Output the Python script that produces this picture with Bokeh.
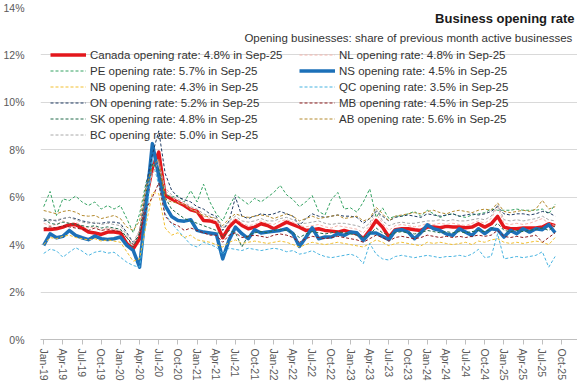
from bokeh.plotting import figure
from bokeh.models import Range1d, FixedTicker, Legend, LegendItem, Label
from bokeh.embed import file_html
from bokeh.resources import INLINE

FONT = "Liberation Sans"

# month index 0 = Jan-19 ... 80 = Sep-25
MONTHS = list(range(81))
TICK_MONTHS = ["Jan", "Apr", "Jul", "Oct"]
TICK_YEARS = ["19", "20", "21", "22", "23", "24", "25"]
TICK_LABELS = [f"{m}-{y}" for y in TICK_YEARS for m in TICK_MONTHS]
TICK_POS = list(range(0, 84, 3))
Y_TICKS = [0, 2, 4, 6, 8, 10, 12, 14]

canada = [4.64, 4.64, 4.67, 4.74, 4.84, 4.84, 4.70, 4.53, 4.49, 4.43,
          4.53, 4.53, 4.49, 4.04, 3.82, 4.25, 5.90, 7.25, 7.90, 6.07,
          5.93, 5.79, 5.65, 5.47, 5.40, 5.02, 5.00, 4.92, 4.29, 4.74,
          5.02, 4.81, 4.67, 4.74, 4.88, 4.81, 4.67, 4.81, 4.95, 4.84,
          4.74, 4.60, 4.63, 4.67, 4.60, 4.57, 4.53, 4.60, 4.53, 4.46,
          4.25, 4.60, 5.02, 4.74, 4.32, 4.63, 4.67, 4.67, 4.63, 4.60,
          4.74, 4.74, 4.71, 4.77, 4.74, 4.74, 4.71, 4.74, 4.88, 4.74,
          4.88, 5.19, 4.74, 4.67, 4.67, 4.70, 4.70, 4.70, 4.74, 4.88,
          4.80]
nl = [4.90, 4.80, 4.85, 5.00, 4.90, 4.95, 4.80, 4.70, 4.75, 4.60,
      4.70, 4.65, 4.60, 4.30, 4.00, 4.60, 6.00, 7.00, 7.30, 6.30,
      6.00, 5.80, 5.70, 5.50, 5.40, 5.20, 5.10, 5.00, 4.60, 4.90,
      5.10, 4.90, 4.80, 4.85, 5.00, 4.90, 4.85, 5.00, 5.05, 4.95,
      4.80, 4.75, 4.80, 4.85, 4.75, 4.70, 4.80, 4.75, 4.70, 4.65,
      4.50, 4.80, 5.30, 4.90, 4.60, 4.80, 4.85, 4.80, 4.75, 4.80,
      4.90, 4.85, 4.90, 4.85, 4.90, 4.85, 4.80, 4.90, 5.00, 4.90,
      5.10, 5.60, 4.90, 4.85, 4.90, 4.85, 4.90, 5.00, 5.10, 4.90,
      4.80]
pe = [5.60, 6.24, 5.23, 5.93, 5.86, 6.05, 5.80, 5.65, 5.80, 5.50,
      5.65, 5.50, 5.65, 5.10, 4.50, 5.30, 6.60, 7.40, 7.10, 6.14,
      6.00, 6.07, 5.80, 6.28, 5.80, 6.55, 5.80, 5.30, 5.00, 5.60,
      6.10, 5.90, 5.70, 5.95, 5.80, 6.00, 6.20, 6.50, 6.10, 5.90,
      5.60, 5.80, 6.07, 5.40, 5.25, 5.90, 6.20, 5.50, 5.55, 5.37,
      5.80, 6.35, 5.15, 5.55, 5.10, 5.20, 5.20, 5.30, 5.40, 5.20,
      5.45, 5.30, 5.15, 5.25, 5.30, 5.20, 5.15, 5.25, 5.30, 5.35,
      5.50, 5.45, 5.45, 5.45, 5.50, 5.45, 5.45, 5.45, 5.50, 5.30,
      5.70]
ns = [3.97, 4.46, 4.29, 4.35, 4.60, 4.39, 4.29, 4.21, 4.36, 4.25,
      4.22, 4.25, 4.32, 3.97, 3.76, 3.05, 5.60, 8.26, 6.90, 5.65,
      5.19, 5.02, 4.99, 5.05, 4.60, 4.53, 4.49, 4.45, 3.40, 4.20,
      4.74, 4.46, 4.25, 4.63, 4.49, 4.53, 4.56, 4.60, 4.67, 4.46,
      3.92, 4.30, 4.71, 4.25, 4.32, 4.32, 4.46, 4.39, 4.53, 4.50,
      4.18, 4.49, 4.49, 4.35, 4.21, 4.60, 4.63, 4.53, 4.25, 4.50,
      4.84, 4.67, 4.60, 4.45, 4.39, 4.67, 4.53, 4.39, 4.67, 4.46,
      4.67, 4.63, 4.32, 4.60, 4.46, 4.67, 4.53, 4.67, 4.63, 4.84,
      4.50]
nb = [4.00, 4.30, 4.25, 4.35, 4.40, 4.30, 4.25, 4.20, 4.25, 4.15,
      4.20, 4.15, 4.10, 3.70, 3.30, 3.40, 4.80, 6.20, 6.15, 4.70,
      4.40, 4.50, 4.30, 4.40, 4.20, 4.15, 4.10, 4.00, 3.90, 4.10,
      4.20, 4.05, 4.10, 4.15, 4.10, 4.05, 4.10, 4.15, 4.10, 4.00,
      3.90, 4.00, 4.10, 4.05, 4.00, 4.05, 4.10, 4.05, 4.00, 3.95,
      3.90, 4.05, 4.20, 4.10, 3.95, 4.05, 4.10, 4.05, 4.00, 3.95,
      4.10, 4.05, 4.10, 4.05, 4.00, 4.05, 4.10, 4.00, 4.15, 4.10,
      4.20, 4.25, 4.10, 4.05, 4.10, 4.05, 4.10, 4.15, 4.10, 4.00,
      4.30]
qc = [3.63, 3.81, 3.74, 3.47, 3.68, 3.87, 3.73, 3.54, 3.68, 3.73,
      3.64, 3.68, 3.47, 3.26, 3.12, 3.05, 5.00, 7.60, 6.50, 5.30,
      4.90, 4.60, 4.30, 4.00, 3.90, 4.10, 4.00, 3.90, 3.60, 3.85,
      3.80, 3.75, 3.85, 3.80, 3.75, 3.80, 3.85, 3.80, 3.70, 3.75,
      3.60, 3.65, 3.75, 3.60, 3.50, 3.45, 3.50, 3.55, 3.60, 3.50,
      3.20, 4.05, 3.60, 3.40, 3.35, 3.50, 3.55, 3.50, 3.45, 3.50,
      3.55, 3.50, 3.45, 3.50, 3.50, 3.55, 3.50, 3.60, 3.80, 3.45,
      3.50, 4.46, 3.40, 3.45, 3.50, 3.45, 3.50, 3.55, 3.70, 3.05,
      3.50]
on = [5.00, 5.05, 5.00, 5.10, 5.15, 5.10, 5.00, 4.95, 4.90, 4.90,
      4.95, 4.95, 4.90, 4.50, 4.10, 4.40, 6.50, 7.80, 8.80, 7.00,
      6.30, 6.00, 5.90, 5.80, 5.60, 5.50, 5.30, 5.20, 4.60, 5.00,
      6.00, 5.20, 5.10, 5.20, 5.30, 5.25, 5.30, 5.40, 5.30, 5.20,
      4.80, 5.10, 5.30, 5.20, 5.15, 5.20, 5.25, 5.20, 5.20, 5.15,
      4.90, 5.10, 5.40, 5.20, 5.00, 5.15, 5.20, 5.25, 5.20, 5.15,
      5.30, 5.25, 5.20, 5.25, 5.30, 5.20, 5.25, 5.30, 5.25, 5.30,
      5.40, 5.60, 5.30, 5.25, 5.30, 5.30, 5.25, 5.30, 5.40, 5.35,
      5.20]
mb = [4.70, 4.75, 4.70, 4.80, 4.75, 4.70, 4.65, 4.60, 4.70, 4.60,
      4.65, 4.60, 4.55, 4.30, 4.00, 4.30, 5.50, 6.00, 6.60, 5.20,
      4.90, 4.80, 4.60, 4.70, 4.60, 4.50, 4.40, 4.40, 4.10, 4.40,
      4.50, 4.30, 4.35, 4.40, 4.35, 4.30, 4.40, 4.45, 4.40, 4.30,
      4.10, 4.25, 4.35, 4.30, 4.25, 4.30, 4.35, 4.30, 4.25, 4.20,
      4.10, 4.25, 4.40, 4.30, 4.15, 4.30, 4.35, 4.30, 4.25, 4.30,
      4.40, 4.35, 4.30, 4.35, 4.30, 4.35, 4.30, 4.35, 4.40, 4.35,
      4.40, 4.60, 4.35, 4.30, 4.35, 4.30, 4.35, 4.40, 4.10, 4.30,
      4.50]
sk = [5.10, 4.90, 4.85, 4.95, 4.90, 4.85, 4.80, 4.75, 4.80, 4.70,
      4.75, 4.70, 4.65, 4.30, 3.90, 4.50, 6.20, 7.40, 7.20, 6.00,
      5.50, 5.30, 5.10, 5.00, 4.90, 4.80, 4.70, 4.60, 4.30, 4.60,
      4.50, 3.90, 4.40, 4.50, 4.55, 4.50, 4.60, 4.65, 4.60, 4.50,
      4.30, 4.45, 4.55, 4.50, 4.45, 4.50, 4.55, 4.50, 4.45, 4.40,
      4.30, 4.45, 4.70, 4.50, 4.40, 4.50, 4.55, 4.50, 4.45, 4.50,
      4.60, 4.55, 4.50, 4.55, 4.50, 4.55, 4.50, 4.55, 4.60, 4.55,
      4.65, 4.90, 4.60, 4.55, 4.60, 4.55, 4.60, 4.65, 4.70, 4.60,
      4.80]
ab = [5.44, 5.37, 5.30, 5.40, 5.44, 5.37, 5.23, 5.20, 5.23, 5.10,
      5.16, 5.23, 5.10, 4.74, 4.60, 5.00, 6.40, 7.30, 7.60, 5.90,
      5.80, 5.75, 5.70, 5.50, 5.35, 5.23, 5.16, 5.10, 4.80, 5.10,
      5.30, 5.20, 5.15, 5.20, 5.25, 5.20, 5.10, 5.20, 5.30, 5.20,
      5.00, 5.10, 5.20, 5.10, 5.15, 5.20, 5.25, 5.10, 5.15, 5.20,
      5.00, 5.10, 5.58, 5.30, 5.00, 5.20, 5.25, 5.30, 5.35, 5.30,
      5.40, 5.45, 5.35, 5.30, 5.40, 5.45, 5.40, 5.35, 5.45, 5.50,
      5.45, 5.76, 5.40, 5.35, 5.40, 5.45, 5.40, 5.50, 5.87, 5.50,
      5.60]
bc = [5.10, 5.00, 5.05, 5.10, 5.15, 5.05, 4.95, 4.90, 4.95, 4.85,
      4.90, 4.85, 4.80, 4.40, 4.10, 4.60, 6.30, 7.00, 7.50, 6.40,
      6.10, 5.90, 5.80, 5.60, 5.50, 5.30, 5.20, 5.10, 4.70, 5.00,
      5.20, 5.00, 4.95, 5.00, 5.10, 5.00, 5.00, 5.10, 5.15, 5.05,
      4.90, 4.90, 4.95, 5.00, 4.90, 4.85, 4.90, 4.90, 4.85, 4.80,
      4.70, 4.90, 5.50, 5.00, 4.80, 4.90, 4.95, 4.90, 4.90, 4.95,
      5.00, 5.00, 5.05, 5.00, 5.05, 5.00, 5.00, 5.05, 5.10, 5.05,
      5.20, 5.70, 5.05, 5.00, 5.05, 5.00, 5.05, 5.10, 5.20, 5.05,
      5.00]

SERIES_NAMES = ["Canada", "NL", "PE", "NS", "NB", "QC", "ON", "MB", "SK", "AB", "BC"]
SERIES_VALUES = [canada, nl, pe, ns, nb, qc, on, mb, sk, ab, bc]
LATEST = ["4.8%", "4.8%", "5.7%", "4.5%", "4.3%", "3.5%", "5.2%", "4.5%", "4.8%", "5.6%", "5.0%"]
COLORS = ["#E3171C", "#F3B3AA", "#34A262", "#1C70B8", "#F2BF2E", "#47B3E0",
          "#1F3B63", "#8E1C1F", "#236B4B", "#B3892C", "#A8A8A8"]
THICK = {"Canada", "NS"}

p = figure(width=577, height=385, output_backend="svg", toolbar_location=None,
           x_range=Range1d(-0.5, 83.5), y_range=Range1d(0, 14),
           min_border_left=35, min_border_right=0, min_border_top=7, min_border_bottom=46)
p.outline_line_color = None
p.xgrid.grid_line_color = None
p.ygrid.grid_line_color = "#D9D9D9"
p.ygrid.grid_line_width = 1

p.xaxis.ticker = FixedTicker(ticks=TICK_POS)
p.xaxis.major_label_overrides = {t: l for t, l in zip(TICK_POS, TICK_LABELS)}
p.xaxis.major_label_orientation = "vertical"
p.xaxis.axis_line_color = "#BFBFBF"
p.xaxis.major_tick_line_color = "#BFBFBF"
p.xaxis.major_tick_out = 5
p.xaxis.major_tick_in = 0
p.xaxis.minor_tick_line_color = None
p.xaxis.major_label_standoff = 4
p.xaxis.major_label_text_font = FONT
p.xaxis.major_label_text_font_size = "10.5px"
p.xaxis.major_label_text_color = "#595959"

p.yaxis.ticker = FixedTicker(ticks=Y_TICKS)
p.yaxis.major_label_overrides = {t: f"{t}%" for t in Y_TICKS}
p.yaxis.axis_line_color = None
p.yaxis.major_tick_line_color = None
p.yaxis.minor_tick_line_color = None
p.yaxis.major_label_standoff = 10
p.yaxis.major_label_text_font = FONT
p.yaxis.major_label_text_font_size = "10.5px"
p.yaxis.major_label_text_color = "#595959"

items = {}
for name, vals, col, latest in zip(SERIES_NAMES, SERIES_VALUES, COLORS, LATEST):
    if name in THICK:
        r = p.line(MONTHS, vals, line_color=col, line_width=3.5, line_join="round")
    else:
        r = p.line(MONTHS, vals, line_color=col, line_width=1, line_dash="3 2", line_join="round")
    items[name] = LegendItem(label=f"{name} opening rate: {latest} in Sep-25", renderers=[r])

def make_legend(names, loc):
    leg = Legend(items=[items[n] for n in names], location=loc,
                 orientation="vertical", padding=0, margin=0, spacing=1,
                 glyph_width=36, glyph_height=15, label_height=15, label_standoff=4,
                 label_text_font=FONT, label_text_font_size="11.5px",
                 label_text_color="#333333", border_line_color=None,
                 background_fill_alpha=0)
    p.add_layout(leg)

make_legend(["Canada", "PE", "NB", "ON", "SK", "BC"], (10, 197))
make_legend(["NL", "NS", "QC", "MB", "AB"], (259, 213))

p.add_layout(Label(x=83.03, y=13.54, text="Business opening rate", text_align="right",
                   text_baseline="middle", text_font=FONT, text_font_style="bold",
                   text_font_size="13px", text_color="#1A1A1A"))
p.add_layout(Label(x=83.19, y=12.73,
                   text="Opening businesses: share of previous month active  businesses",
                   text_align="right", text_baseline="middle", text_font=FONT,
                   text_font_size="11.5px", text_color="#333333"))

open("out.html", "w").write(file_html(p, INLINE))
